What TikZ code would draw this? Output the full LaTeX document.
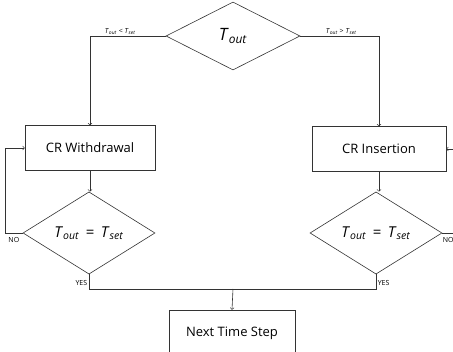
\documentclass[tikz,border=0pt]{standalone}
\usepackage{fontspec}
\setmainfont{Open Sans}
\usetikzlibrary{positioning,shapes.geometric}
\newcommand{\tvar}[1]{\textit{T}\textsubscript{\textit{#1}}}

\begin{document}
\begin{tikzpicture}[x=1pt,y=-1pt,>=To,line width=0.6pt,draw=black!80,
		box/.style={rectangle,draw,minimum width=130pt,minimum height=45pt,font=\fontsize{13}{15}\selectfont},
		decide/.style={diamond,draw,inner sep=0pt,minimum width=134pt,minimum height=68pt,font=\fontsize{15}{17}\selectfont},
		tag/.style={font=\fontsize{7}{8}\selectfont,inner sep=1.5pt}]
	\useasboundingbox (0,0) rectangle (453,352);

	\node[decide,font=\fontsize{17}{19}\selectfont]	(tout)	at (233,36)		{\tvar{out}};
	\node[box]										(wd)	at (90,148)		{CR Withdrawal};
	\node[box,minimum width=134pt]					(ins)	at (379,149)	{CR Insertion};
	\node[decide,minimum width=132pt]				(chkL)	at (89,233)		{\tvar{out} \,=\, \tvar{set}};
	\node[decide,minimum width=132pt]				(chkR)	at (376,233)	{\tvar{out} \,=\, \tvar{set}};
	\node[box,minimum width=126pt,minimum height=46pt]	(next)	at (232,333)	{Next Time Step};

	\coordinate (loopL) at (5,233);
	\coordinate (loopR) at (462,233);
	\coordinate (merge) at (233,289);

	\draw[->] (tout.west) -| node[tag,above,pos=0.3] {\tvar{out} < \tvar{set}} (wd.north);
	\draw[->] (tout.east) -| node[tag,above,pos=0.26] {\tvar{out} > \tvar{set}} (ins.north);
	\draw[->] (wd.south) -- (wd.south |- chkL.north);
	\draw[->] (ins.south) -- (ins.south |- chkR.north);
	\draw[->] (chkL.west) -- node[tag,below=3pt] {NO} (loopL) |- (wd.west);
	\draw[->] (chkR.east) -- node[tag,below=3pt,pos=0.3] {NO} (loopR) |- (ins.east);
	\draw (chkL.south) -- node[tag,left,pos=0.6] {YES} (chkL.south |- merge) -- (chkR.south |- merge)
		-- node[tag,right,pos=0.4] {YES} (chkR.south);
	\draw[->] (merge) -- (next.north);
\end{tikzpicture}
\end{document}
